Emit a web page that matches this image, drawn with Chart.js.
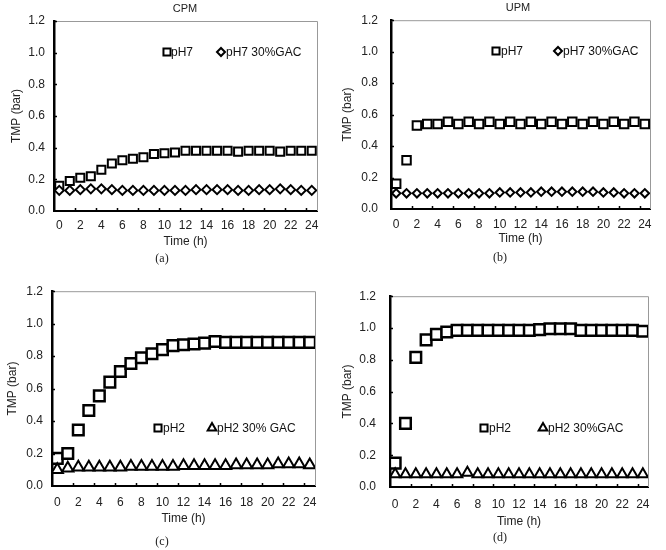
<!DOCTYPE html>
<html><head><meta charset="utf-8">
<script src="https://cdn.jsdelivr.net/npm/chart.js@4.4.1/dist/chart.umd.min.js"></script>
<style>
html,body{margin:0;padding:0;background:#fff;}
#wrap{position:relative;width:666px;height:550px;background:#fff;overflow:hidden;font-family:"Liberation Sans",Arial,sans-serif;}
.panel{position:absolute;width:333px;height:275px;}
.panel canvas{position:absolute;left:0;top:0;}
.ttl{position:absolute;font-size:11px;color:#222;transform:translate(-50%,-50%);white-space:nowrap;}
.cap{position:absolute;font-family:"Liberation Serif","Times New Roman",serif;font-size:12px;color:#222;transform:translate(-50%,-50%);white-space:nowrap;}
</style></head>
<body><div id="wrap">
<div class="panel" style="left:0;top:0"><canvas id="ca" width="333" height="275"></canvas></div>
<div class="panel" style="left:333px;top:0"><canvas id="cb" width="333" height="275"></canvas></div>
<div class="panel" style="left:0;top:275px"><canvas id="cc" width="333" height="275"></canvas></div>
<div class="panel" style="left:333px;top:275px"><canvas id="cd" width="333" height="275"></canvas></div>
<div class="ttl" style="left:185px;top:8px">CPM</div>
<div class="ttl" style="left:518px;top:7px">UPM</div>
<div class="cap" style="left:162px;top:258px">(a)</div>
<div class="cap" style="left:500px;top:257px">(b)</div>
<div class="cap" style="left:162px;top:541px">(c)</div>
<div class="cap" style="left:500px;top:537px">(d)</div>
</div>
<script>
// ---------- data ----------
const hours = [0,1,2,3,4,5,6,7,8,9,10,11,12,13,14,15,16,17,18,19,20,21,22,23,24];
const xTickLabels = [0,2,4,6,8,10,12,14,16,18,20,22,24];
const yTickValues = [0,0.2,0.4,0.6,0.8,1.0,1.2];

const cpmPH7    = [0.16,0.19,0.21,0.22,0.26,0.30,0.32,0.33,0.34,0.36,0.365,0.37,0.38,0.38,0.38,0.38,0.38,0.375,0.38,0.38,0.38,0.375,0.38,0.38,0.38];
const cpmPH7GAC = [0.13,0.13,0.135,0.14,0.14,0.135,0.13,0.13,0.13,0.13,0.13,0.13,0.13,0.135,0.135,0.135,0.135,0.13,0.13,0.135,0.135,0.14,0.135,0.13,0.13];

const upmPH7    = [0.16,0.31,0.53,0.54,0.54,0.555,0.54,0.555,0.54,0.555,0.54,0.555,0.54,0.555,0.54,0.555,0.54,0.555,0.54,0.555,0.54,0.555,0.54,0.555,0.54];
const upmPH7GAC = [0.10,0.10,0.10,0.10,0.10,0.10,0.10,0.10,0.10,0.10,0.105,0.105,0.105,0.105,0.11,0.11,0.11,0.11,0.11,0.11,0.105,0.105,0.10,0.10,0.10];

const cpmPH2    = [0.17,0.20,0.345,0.465,0.555,0.64,0.705,0.755,0.79,0.815,0.84,0.865,0.87,0.875,0.88,0.89,0.885,0.885,0.885,0.885,0.885,0.885,0.885,0.885,0.885];
const cpmPH2GAC = [0.10,0.11,0.115,0.115,0.115,0.115,0.115,0.12,0.12,0.12,0.12,0.12,0.125,0.125,0.125,0.125,0.125,0.13,0.13,0.13,0.13,0.135,0.135,0.135,0.13];

const upmPH2    = [0.15,0.40,0.815,0.925,0.96,0.975,0.985,0.985,0.985,0.985,0.985,0.985,0.985,0.985,0.99,0.995,0.995,0.995,0.985,0.985,0.985,0.985,0.985,0.985,0.98];
const upmPH2GAC = [0.08,0.08,0.08,0.08,0.08,0.08,0.08,0.09,0.08,0.08,0.08,0.08,0.08,0.08,0.08,0.08,0.08,0.08,0.08,0.08,0.08,0.08,0.08,0.08,0.08];

// ---------- helpers ----------
Chart.defaults.font.family = '"Liberation Sans", Arial, sans-serif';
Chart.defaults.font.size = 12;
Chart.defaults.color = '#222';

function pts(vals){ return hours.map((h,i)=>({x:h,y:vals[i]})); }

function drawMarker(ctx, style, r, x, y, bw){
  ctx.save();
  ctx.fillStyle = '#fff'; ctx.strokeStyle = '#000'; ctx.lineWidth = bw;
  if (Chart.helpers && Chart.helpers.drawPoint) {
    Chart.helpers.drawPoint(ctx, {pointStyle: style, radius: r, rotation: 0, borderWidth: bw}, x, y);
  }
  ctx.restore();
}

const frameTicks = {
  id: 'frameTicks',
  afterDatasetsDraw(chart, args, opts){
    const {ctx, chartArea: a, scales} = chart;
    ctx.save();
    ctx.strokeStyle = '#999'; ctx.lineWidth = 1;
    ctx.beginPath();
    ctx.moveTo(a.left, a.top + 0.5); ctx.lineTo(a.right + 0.5, a.top + 0.5); ctx.lineTo(a.right + 0.5, a.bottom);
    ctx.stroke();
    ctx.strokeStyle = '#000'; ctx.lineWidth = 1.5;
    ctx.beginPath();
    xTickLabels.slice(0, -1).forEach(v => {
      const px = Math.round(scales.x.getPixelForValue(v + 1.5)) + 0.5;
      ctx.moveTo(px, a.bottom); ctx.lineTo(px, a.bottom - 3);
    });
    yTickValues.slice(1).forEach(v => {
      const py = Math.round(scales.y.getPixelForValue(v)) + 0.5;
      ctx.moveTo(a.left, py); ctx.lineTo(a.left + 3, py);
    });
    ctx.stroke();
    // legend
    const items = opts.items || [];
    chart.data.datasets.forEach((ds, i) => {
      const it = items[i]; if (!it) return;
      drawMarker(ctx, ds.pointStyle, it.r, it.x, it.y, 2);
      ctx.fillStyle = '#111';
      ctx.font = '12px "Liberation Sans", Arial, sans-serif';
      ctx.textBaseline = 'middle'; ctx.textAlign = 'left';
      ctx.fillText(ds.label, it.tx, it.y + 0.5);
    });
    ctx.restore();
  }
};

function makeChart(id, cfg){
  const A = cfg.area;
  new Chart(document.getElementById(id), {
    type: 'scatter',
    data: { datasets: cfg.datasets },
    options: {
      responsive: false, animation: false, devicePixelRatio: 1,
      layout: { padding: { left: 0, top: A.t, right: 333 - A.r, bottom: 275 - A.b - cfg.xH } },
      plugins: { legend: {display: false}, tooltip: {enabled: false}, frameTicks: { items: cfg.legend } },
      scales: {
        x: {
          type: 'linear', min: -0.5, max: 24.5,
          afterBuildTicks: s => { s.ticks = xTickLabels.map(v => ({value: v})); },
          afterFit: s => { s.height = cfg.xH; },
          grid: { display: false, drawTicks: false },
          border: { display: true, color: '#000', width: 2 },
          ticks: { padding: cfg.padX, color: '#222', maxRotation: 0, autoSkip: false, callback: v => String(v) },
          title: { display: true, text: 'Time (h)', color: '#222', font: {size: 12}, padding: {top: 0, bottom: 0} }
        },
        y: {
          min: 0, max: 1.2,
          afterBuildTicks: s => { s.ticks = yTickValues.map(v => ({value: v})); },
          afterFit: s => { s.width = A.l; },
          grid: { display: false, drawTicks: false },
          border: { display: true, color: '#000', width: 2.5 },
          ticks: { padding: cfg.padY, color: '#222', callback: v => Number(v).toFixed(1) },
          title: { display: true, text: 'TMP (bar)', color: '#222', font: {size: 12}, padding: {top: cfg.yTitleX - 7.2, bottom: 0} }
        }
      }
    },
    plugins: [frameTicks]
  });
}

function ds(label, vals, style, r, bw){
  return { label, data: pts(vals), pointStyle: style, pointRadius: r, pointHoverRadius: r,
    pointBackgroundColor: '#fff', pointBorderColor: '#000', pointBorderWidth: bw, showLine: false };
}

makeChart('ca', {
  area: {l:54, t:21, r:317, b:211}, xH: 38, padX: 7, padY: 9, yTitleX: 17,
  datasets: [ ds('pH7 30%GAC', cpmPH7GAC, 'rectRot', 4.5, 2), ds('pH7', cpmPH7, 'rect', 5.7, 2) ],
  legend: [ {x:221, y:52, r:4, tx:226}, {x:167, y:52, r:5, tx:171} ]
});
makeChart('cb', {
  area: {l:58, t:18, r:317, b:209}, xH: 37, padX: 8, padY: 13, yTitleX: 15,
  datasets: [ ds('pH7 30%GAC', upmPH7GAC, 'rectRot', 4.2, 2), ds('pH7', upmPH7, 'rect', 6, 2) ],
  legend: [ {x:225, y:51, r:4, tx:230}, {x:163, y:51, r:5, tx:168} ]
});
makeChart('cc', {
  area: {l:52, t:13, r:315, b:211}, xH: 40, padX: 9, padY: 9, yTitleX: 13,
  datasets: [ ds('pH2 30% GAC', cpmPH2GAC, 'triangle', 6.5, 2), ds('pH2', cpmPH2, 'rect', 7.5, 2.5) ],
  legend: [ {x:212, y:153, r:5, tx:217}, {x:158, y:153, r:5, tx:163} ]
});
makeChart('cd', {
  area: {l:57, t:13, r:315, b:212}, xH: 42, padX: 10, padY: 14, yTitleX: 15,
  datasets: [ ds('pH2 30%GAC', upmPH2GAC, 'triangle', 6, 2), ds('pH2', upmPH2, 'rect', 7.5, 2.5) ],
  legend: [ {x:210, y:153, r:5, tx:215}, {x:151, y:153, r:5, tx:156} ]
});
</script>
</body></html>
